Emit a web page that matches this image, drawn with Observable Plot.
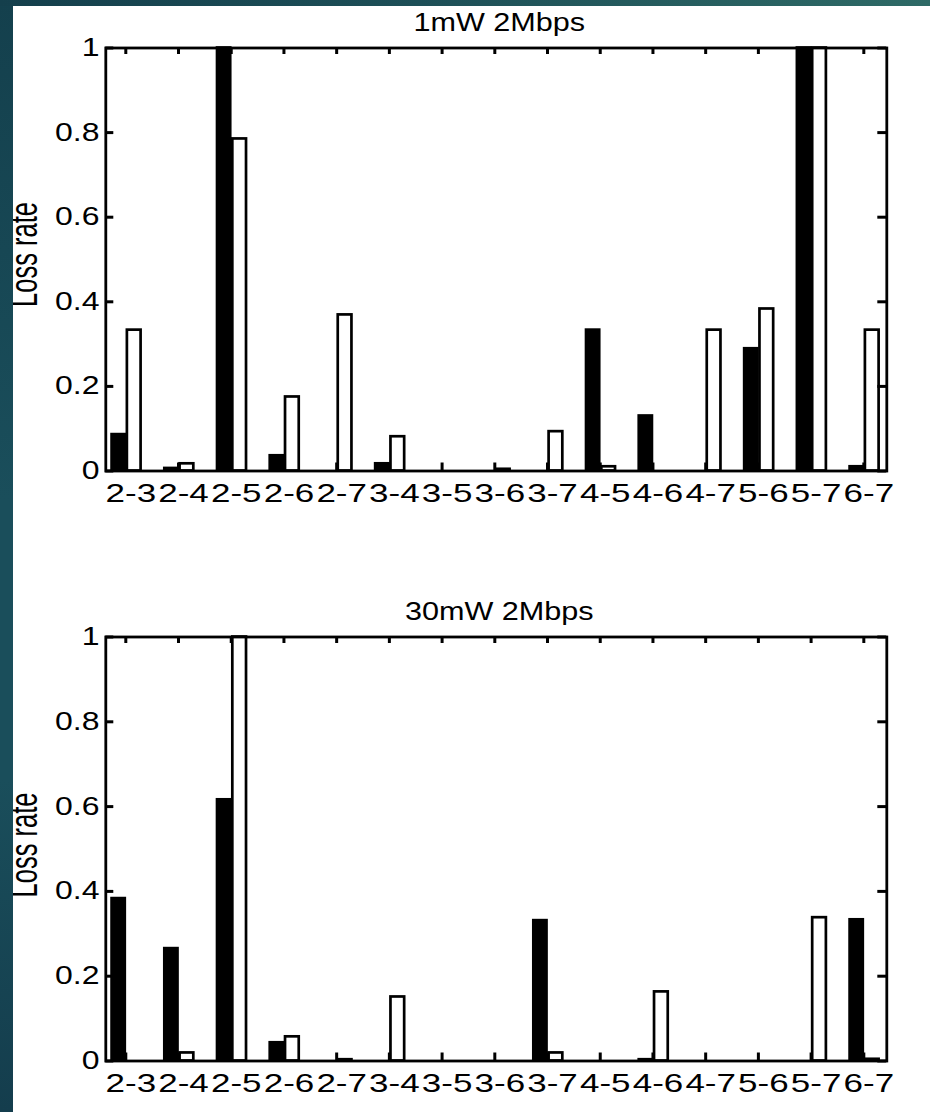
<!DOCTYPE html>
<html><head><meta charset="utf-8">
<script src="https://cdn.jsdelivr.net/npm/d3@7"></script>
<script src="https://cdn.jsdelivr.net/npm/@observablehq/plot@0.6"></script>
<style>
html,body{margin:0;padding:0;background:#fff;}
body{width:930px;height:1112px;position:relative;overflow:hidden;}
#p1,#p2{position:absolute;left:0;}
#p1{top:0;} #p2{top:560px;}
#p1 svg,#p2 svg{display:block;}
#leftStrip{position:absolute;left:0;top:0;width:13px;height:1112px;z-index:5;
  background:linear-gradient(#14404d,#1a4e5b 45%,#1a4e5b 70%,#143d4d);}
#topStrip{position:absolute;left:0;top:0;width:930px;height:6px;z-index:6;
  background:linear-gradient(to right,#143f4c,#1d4f57 45%,#2e6a66);}
</style></head><body>
<div id="p1"></div><div id="p2"></div><div id="leftStrip"></div><div id="topStrip"></div>
<script>
// ---- data ----
const categories = ["2-3","2-4","2-5","2-6","2-7","3-4","3-5","3-6","3-7","4-5","4-6","4-7","5-6","5-7","6-7"];
const titles = ["1mW 2Mbps", "30mW 2Mbps"];
const yLabel = "Loss rate";
const yTicks = [0, 0.2, 0.4, 0.6, 0.8, 1];
const yTickLabels = ["0", "0.2", "0.4", "0.6", "0.8", "1"];
const loss1mWBlack  = [0.086, 0.006, 1.0, 0.036, 0, 0.017, 0, 0, 0, 0.333, 0.13, 0, 0.289, 1.0, 0.01];
const loss1mWWhite  = [0.333, 0.017, 0.785, 0.175, 0.369, 0.081, 0, 0.004, 0.093, 0.01, 0, 0.333, 0.383, 1.0, 0.333];
const loss30mWBlack = [0.383, 0.265, 0.616, 0.043, 0, 0, 0, 0, 0.331, 0, 0.003, 0, 0, 0, 0.333];
const loss30mWWhite = [0, 0.019, 1.0, 0.057, 0.003, 0.151, 0, 0, 0.019, 0, 0.163, 0, 0, 0.338, 0.004];

const xTicks = categories.map((c, i) => i + 1);

function stretchEl(el, sx, sy) {
  const xs = el.getAttribute("x");
  const xa = xs != null && !/em$/.test(xs) ? parseFloat(xs) || 0 : 0;
  const ys = el.getAttribute("y");
  const ya = ys != null && !/em$/.test(ys) ? parseFloat(ys) || 0 : 0;
  const t = el.getAttribute("transform") || "";
  el.setAttribute("transform", `${t} translate(${xa},${ya}) scale(${sx},${sy}) translate(${-xa},${-ya})`);
}
function stretch(nodes, sx, sy) { nodes.forEach(el => stretchEl(el, sx, sy)); }

function chart(title, black, white, L) {
  const rows = categories.map((c, i) => ({i: i + 1, c, black: black[i], white: white[i]}));
  const W = 930 - L.ml - L.mr;
  const H = L.height - L.mt - L.mb;
  const svg = Plot.plot({
    width: 930, height: L.height,
    marginLeft: L.ml, marginRight: L.mr, marginTop: L.mt, marginBottom: L.mb,
    x: {domain: [0.6206, 15.436]},
    y: {domain: [0, 1]},
    style: {fontFamily: "'Liberation Sans', Arial, sans-serif", background: "white", color: "black", overflow: "visible"},
    marks: [
      Plot.rect(rows.filter(d => d.black > 0), {x1: d => d.i - 0.26, x2: d => d.i - 0.01, y1: 0, y2: "black", fill: "black", stroke: "black", strokeWidth: 2.7}),
      Plot.rect(rows.filter(d => d.white > 0), {x1: d => d.i + 0.03, x2: d => d.i + 0.29, y1: 0, y2: "white", fill: "white", stroke: "black", strokeWidth: 2.7}),
      Plot.tickX(xTicks, {x: d => d, insetTop: H - 8, stroke: "black", strokeWidth: 3}),
      Plot.tickX(xTicks, {x: d => d, insetBottom: H - 6.5, stroke: "black", strokeWidth: 3}),
      Plot.tickY(yTicks, {y: d => d, insetRight: W - 8, stroke: "black", strokeWidth: 3}),
      Plot.tickY(yTicks, {y: d => d, insetLeft: W - 9, stroke: "black", strokeWidth: 3}),
      Plot.frame({stroke: "black", strokeWidth: 2.8}),
      Plot.axisX({ticks: xTicks, tickFormat: d => categories[d - 1], tickSize: 0, tickPadding: 13, label: null, fontSize: 25, dx: 5}),
      Plot.axisY({ticks: yTicks, tickFormat: d => yTickLabels[yTicks.indexOf(d)], tickSize: 0, tickPadding: 6.3, label: null, fontSize: 25}),
      Plot.text([title], {frameAnchor: "top", textAnchor: "middle", lineAnchor: "bottom", dy: -17.5, dx: 3, fontSize: 25.5}),
      Plot.text([yLabel], {frameAnchor: "left", textAnchor: "middle", rotate: -90, lineAnchor: "bottom", dx: 36 - L.ml, dy: L.ldy, fontSize: 25.5})
    ]
  });
  stretch(svg.querySelectorAll('g[aria-label="x-axis tick label"] text'), 1.4, 1);
  stretch(svg.querySelectorAll('g[aria-label="y-axis tick label"] text'), 1.28, 1);
  const textGroups = svg.querySelectorAll('g[aria-label="text"]');
  stretch(textGroups[0].querySelectorAll("text"), 1.2, 1);
  stretch(textGroups[1].querySelectorAll("text"), 1, 1.5);
  return svg;
}

document.getElementById("p1").appendChild(
  chart(titles[0], loss1mWBlack, loss1mWWhite, {height: 560, ml: 105.3, mr: 43.7, mt: 47.5, mb: 89.5, ldy: -5}));
document.getElementById("p2").appendChild(
  chart(titles[1], loss30mWBlack, loss30mWWhite, {height: 552, ml: 105.3, mr: 43.7, mt: 76.5, mb: 51.5, ldy: -4}));
</script>
</body></html>
